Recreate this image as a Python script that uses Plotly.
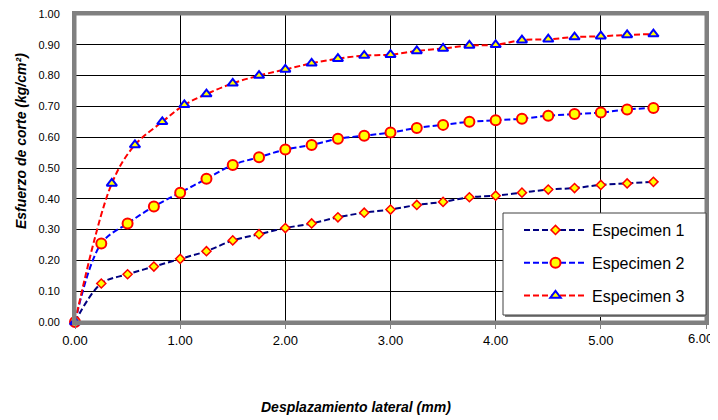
import plotly.graph_objects as go

# ---- data ----
x_s1 = [0.00, 0.25, 0.50, 0.75, 1.00, 1.25, 1.50, 1.75, 2.00, 2.25, 2.50, 2.75,
        3.00, 3.25, 3.50, 3.75, 4.00, 4.25, 4.50, 4.75, 5.00, 5.25, 5.50]
y_s1 = [0.000, 0.125, 0.155, 0.180, 0.205, 0.230, 0.265, 0.285, 0.305, 0.320, 0.340, 0.355,
        0.365, 0.380, 0.390, 0.405, 0.410, 0.420, 0.430, 0.435, 0.445, 0.450, 0.455]

x_s2 = [0.00, 0.25, 0.50, 0.75, 1.00, 1.25, 1.50, 1.75, 2.00, 2.25, 2.50, 2.75,
        3.00, 3.25, 3.50, 3.75, 4.00, 4.25, 4.50, 4.75, 5.00, 5.25, 5.50]
y_s2 = [0.000, 0.255, 0.320, 0.375, 0.420, 0.465, 0.510, 0.535, 0.560, 0.575, 0.595, 0.605,
        0.615, 0.630, 0.640, 0.650, 0.655, 0.660, 0.670, 0.675, 0.680, 0.690, 0.695]

x_s3 = [0.00, 0.35, 0.57, 0.83, 1.04, 1.25, 1.50, 1.75, 2.00, 2.25, 2.50, 2.75,
        3.00, 3.25, 3.50, 3.75, 4.00, 4.25, 4.50, 4.75, 5.00, 5.25, 5.50]
y_s3 = [0.000, 0.450, 0.575, 0.650, 0.705, 0.740, 0.775, 0.800, 0.820, 0.840, 0.855, 0.865,
        0.868, 0.880, 0.888, 0.898, 0.900, 0.915, 0.918, 0.925, 0.928, 0.932, 0.935]

names = ["Especimen 1", "Especimen 2", "Especimen 3"]
x_ticks = [0, 1, 2, 3, 4, 5, 6]
x_ticklabels = ["0.00", "1.00", "2.00", "3.00", "4.00", "5.00", ""]
last_x_label = "6.00"   # drawn shifted left, as in the reference (kept inside the frame)
y_ticks = [0.0, 0.1, 0.2, 0.3, 0.4, 0.5, 0.6, 0.7, 0.8, 0.9, 1.0]
y_ticklabels = ["0.00", "0.10", "0.20", "0.30", "0.40", "0.50",
                "0.60", "0.70", "0.80", "0.90", "1.00"]

FONT = "Liberation Sans, Arial, sans-serif"

fig = go.Figure()

series = [
    (x_s1, y_s1, names[0], "#000080", dict(symbol="diamond", size=7, color="#FFFF00",
                                          line=dict(color="#FF0000", width=1.5))),
    (x_s2, y_s2, names[1], "#0000FF", dict(symbol="circle", size=10, color="#FFFF00",
                                          line=dict(color="#FF0000", width=2))),
    (x_s3, y_s3, names[2], "#FF0000", dict(symbol="triangle-up", size=9, color="#FFFF00",
                                          line=dict(color="#0000FF", width=2))),
]
for i, (xs, ys, nm, col, mk) in enumerate(series):
    fig.add_trace(go.Scatter(
        x=xs, y=ys, name=nm, mode="lines+markers",
        line=dict(color=col, width=2, dash="6px,3px", shape="spline", smoothing=1.0),
        marker=mk, cliponaxis=False, legendgroup=f"g{i}",
    ))

# page offset (body margin) compensation
OX, OY = 8, 8
# plot area in screen pixels
L, R, T, B = 75 - OX, 706 - OX, 14 - OY, 322 - OY
W, H = R - L, B - T
def px(xs):
    return (xs - OX - L) / W
def py(ys):
    return (B - (ys - OY)) / H

# plot frame
fig.add_shape(type="rect", xref="paper", yref="paper", x0=0, x1=1, y0=0, y1=1,
              line=dict(color="#808080", width=3), layer="above")

# legend box (shadow + box)
fig.add_shape(type="rect", xref="paper", yref="paper",
              x0=px(505), x1=px(708), y0=py(317), y1=py(215),
              fillcolor="#808080", line=dict(width=0), layer="above")
fig.add_shape(type="rect", xref="paper", yref="paper",
              x0=px(503), x1=px(706), y0=py(315), y1=py(213),
              fillcolor="white", line=dict(color="#404040", width=1), layer="above")

fig.add_annotation(text=last_x_label, xref="x", yref="paper", x=x_ticks[-1], y=py(338),
                   xshift=-6, showarrow=False,
                   font=dict(family=FONT, size=13, color="black"),
                   xanchor="center", yanchor="middle")
fig.add_annotation(text="<b><i>Desplazamiento lateral (mm)</i></b>",
                   xref="paper", yref="paper", x=px(356), y=py(407),
                   showarrow=False, font=dict(family=FONT, size=14, color="black"),
                   xanchor="center", yanchor="middle")
fig.add_annotation(text="<b><i>Esfuerzo de corte (kg/cm²)</i></b>",
                   xref="paper", yref="paper", x=px(21), y=py(141),
                   showarrow=False, textangle=-90,
                   font=dict(family=FONT, size=14, color="black"),
                   xanchor="center", yanchor="middle")

fig.update_layout(
    width=718, height=420,
    margin=dict(l=L, r=718 - R, t=T, b=420 - B, autoexpand=False),
    paper_bgcolor="white", plot_bgcolor="white",
    font=dict(family=FONT, color="black"),
    showlegend=True,
    legend=dict(x=px(519), y=py(213), xanchor="left", yanchor="top",
                bgcolor="rgba(0,0,0,0)", borderwidth=0,
                font=dict(family=FONT, size=16, color="black"),
                tracegroupgap=9, traceorder="grouped", itemwidth=63),
    xaxis=dict(range=[0, 6], tickvals=x_ticks, ticktext=x_ticklabels,
               showgrid=True, gridcolor="black", gridwidth=1,
               showline=True, linecolor="#808080", linewidth=3, mirror=True,
               ticks="outside", ticklen=4, tickcolor="#808080", tickwidth=1,
               tickfont=dict(family=FONT, size=13, color="black"),
               ticklabeloverflow="allow",
               zeroline=False, fixedrange=True, automargin=False),
    yaxis=dict(range=[0, 1], tickvals=y_ticks, ticktext=y_ticklabels,
               showgrid=True, gridcolor="black", gridwidth=1,
               showline=True, linecolor="#808080", linewidth=3, mirror=True,
               ticks="", ticklabelstandoff=10, ticklabeloverflow="allow",
               tickfont=dict(family=FONT, size=11, color="black"),
               zeroline=False, fixedrange=True, automargin=False),
)

fig.write_html("out.html")
